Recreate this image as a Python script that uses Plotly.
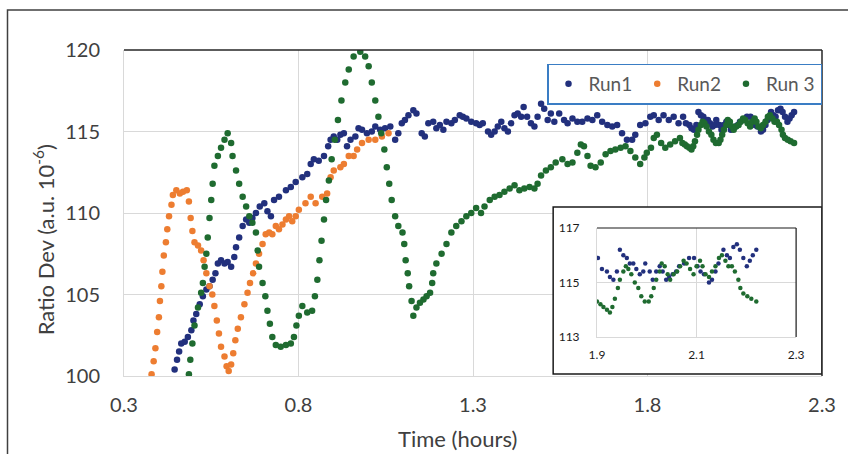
import plotly.graph_objects as go

# ---------------- data ----------------
run1_t = [0.445,0.452,0.458,0.464,0.474,0.483,0.493,0.499,0.507,0.517,0.526,0.536,0.545,0.554,0.562,0.569,
          0.578,0.588,0.597,0.607,0.616,0.621,0.630,0.640,0.650,0.659,0.668,0.678,0.689,0.702,0.711,0.721,
          0.730,0.744,0.764,0.778,0.792,0.811,0.825,0.835,0.844,0.858,0.873,0.885,0.892,0.901,0.911,0.920,
          0.930,0.939,0.949,0.963,0.972,0.982,0.996,1.010,1.020,1.034,1.048,1.063,1.077,1.086,1.096,1.105,
          1.115,1.129,1.138,1.153,1.162,1.172,1.186,1.195,1.205,1.215,1.224,1.238,1.248,1.262,1.271,1.281,
          1.295,1.309,1.319,1.328,1.343,1.352,1.362,1.371,1.381,1.390,1.400,1.409,1.419,1.428,1.438,1.445,
          1.455,1.466,1.476,1.485,1.495,1.504,1.514,1.523,1.533,1.547,1.561,1.571,1.585,1.599,1.613,1.628,
          1.642,1.656,1.670,1.685,1.699,1.713,1.727,1.741,1.756,1.765,1.779,1.794,1.808,1.818,1.832,1.846,
          1.861,1.875,1.889,1.902,1.910,1.920,1.926,1.933,1.940,1.946,1.953,1.960,1.966,1.973,1.979,1.986,
          1.993,1.997,2.006,2.012,2.019,2.026,2.032,2.039,2.045,2.052,2.059,2.065,2.075,2.085,2.095,2.102,
          2.108,2.115,2.125,2.131,2.138,2.144,2.154,2.161,2.167,2.174,2.181,2.187,2.194,2.201,2.207,2.213,2.220]
run1_v = [100.4,101.0,101.5,102.0,102.1,102.4,102.8,103.4,103.8,104.4,104.9,105.3,105.5,105.9,106.3,106.9,
          107.1,106.9,107.0,106.7,107.3,107.9,108.5,109.2,109.6,109.4,109.7,110.0,110.4,110.6,110.1,109.8,
          110.8,111.0,111.4,111.6,111.9,112.2,112.4,113.0,113.3,113.2,113.5,114.1,114.5,114.7,114.5,114.8,
          114.9,114.1,114.5,114.7,115.2,115.1,114.9,115.0,115.3,115.1,115.2,115.3,114.5,114.9,115.5,115.7,
          116.0,116.3,116.1,114.9,114.7,115.5,115.6,115.2,115.4,115.1,115.6,115.5,115.7,116.0,115.9,115.8,
          115.6,115.5,115.4,115.5,115.0,114.8,115.0,115.3,115.6,115.2,115.0,115.5,116.0,116.1,115.9,116.5,
          115.9,115.5,115.3,115.9,116.7,116.4,115.7,116.1,115.6,116.1,115.7,115.5,115.8,115.6,115.6,115.8,
          115.7,116.0,115.6,115.4,115.3,115.4,114.9,114.5,114.5,114.8,115.4,115.5,115.9,116.0,115.7,116.0,
          115.7,115.9,115.5,115.9,115.5,115.4,115.2,115.1,115.4,116.2,116.0,115.9,115.7,115.7,115.5,115.3,
          115.4,115.7,115.4,115.1,115.4,115.6,115.4,115.1,115.2,115.3,115.4,115.6,115.7,115.9,115.9,115.6,
          115.4,115.3,115.0,115.1,115.4,115.7,116.2,116.0,115.9,116.3,116.4,116.2,115.9,115.6,115.8,116.0,116.2]

run2_t = [0.379,0.385,0.390,0.395,0.400,0.403,0.407,0.410,0.414,0.420,0.424,0.429,0.436,0.440,0.450,0.460,
          0.469,0.480,0.486,0.491,0.496,0.502,0.512,0.521,0.528,0.536,0.545,0.553,0.559,0.566,0.572,0.578,
          0.588,0.594,0.600,0.607,0.613,0.619,0.626,0.635,0.645,0.654,0.661,0.670,0.678,0.687,0.697,0.706,
          0.716,0.725,0.735,0.744,0.754,0.764,0.773,0.782,0.792,0.801,0.820,0.835,0.849,0.868,0.882,0.892,
          0.901,0.920,0.930,0.944,0.958,0.968,0.982,1.001,1.020,1.039,1.058]
run2_v = [100.1,100.9,101.7,102.7,103.6,104.6,105.5,106.4,107.4,108.2,109.0,109.8,110.5,111.1,111.4,111.2,
          111.3,111.4,110.7,109.7,108.9,108.2,108.0,107.7,107.1,106.3,105.5,105.0,104.3,103.4,102.6,101.8,
          101.2,100.6,100.3,100.7,101.4,102.2,102.9,103.6,104.4,105.1,105.7,106.3,106.9,107.5,108.1,108.7,
          108.8,108.7,109.2,109.0,109.3,109.6,109.8,109.5,109.8,110.2,110.6,111.0,110.6,111.0,111.2,112.2,
          112.6,112.8,113.0,113.5,113.5,113.9,114.3,114.5,114.5,114.7,114.9]

run3_t = [0.486,0.490,0.496,0.502,0.512,0.521,0.526,0.531,0.536,0.540,0.545,0.550,0.554,0.559,0.569,0.578,
          0.588,0.597,0.607,0.611,0.621,0.630,0.640,0.650,0.659,0.668,0.678,0.683,0.687,0.697,0.705,0.711,
          0.718,0.725,0.735,0.749,0.764,0.778,0.787,0.794,0.801,0.811,0.825,0.839,0.847,0.854,0.860,0.866,
          0.873,0.879,0.887,0.895,0.904,0.913,0.923,0.934,0.944,0.958,0.977,0.991,1.001,1.010,1.020,1.029,
          1.037,1.046,1.053,1.060,1.067,1.077,1.086,1.098,1.103,1.107,1.113,1.117,1.124,1.129,1.138,1.148,
          1.158,1.167,1.177,1.183,1.186,1.195,1.210,1.224,1.238,1.252,1.267,1.281,1.295,1.309,1.323,1.333,
          1.348,1.362,1.376,1.390,1.405,1.419,1.433,1.447,1.462,1.476,1.485,1.495,1.509,1.523,1.537,1.556,
          1.571,1.585,1.599,1.609,1.618,1.628,1.637,1.651,1.666,1.680,1.694,1.708,1.723,1.737,1.751,1.765,
          1.779,1.791,1.798,1.810,1.818,1.827,1.839,1.851,1.865,1.879,1.893,1.900,1.907,1.913,1.920,1.926,
          1.931,1.936,1.942,1.946,1.953,1.958,1.963,1.969,1.976,1.983,1.989,1.996,2.004,2.009,2.014,2.019,
          2.026,2.030,2.036,2.042,2.047,2.054,2.061,2.067,2.074,2.080,2.087,2.094,2.100,2.107,2.112,2.118,
          2.125,2.131,2.138,2.145,2.151,2.158,2.164,2.171,2.177,2.184,2.188,2.194,2.202,2.210,2.220]
run3_v = [100.1,101.0,102.0,103.1,104.2,105.1,105.7,106.7,107.5,108.5,109.7,110.8,111.8,112.9,113.5,114.0,
          114.5,114.9,114.3,113.5,112.6,111.8,111.0,110.4,109.8,109.4,108.8,107.7,106.7,105.7,104.9,104.0,
          103.2,102.4,101.9,101.8,101.9,102.0,102.4,103.1,103.7,104.3,103.9,104.0,104.9,105.9,107.1,108.3,
          109.6,110.8,112.0,113.3,114.5,115.7,116.9,118.0,118.8,119.6,119.9,119.6,119.0,118.0,116.9,115.9,
          114.9,113.9,112.8,111.8,110.8,109.8,109.2,108.8,108.1,107.1,106.3,105.5,104.6,103.7,104.2,104.5,
          104.7,104.9,105.1,105.7,106.3,106.9,107.5,108.1,108.8,109.2,109.5,109.8,110.0,110.3,110.0,110.4,
          110.8,111.0,111.1,111.3,111.5,111.7,111.4,111.5,111.6,111.5,111.8,112.3,112.6,112.8,113.1,113.3,
          113.0,113.1,113.7,114.2,114.1,113.5,112.9,112.8,113.1,113.6,113.8,113.9,114.0,114.1,113.8,113.4,
          113.0,113.4,113.7,114.0,114.6,114.8,114.3,114.0,114.2,114.4,114.6,114.3,114.2,114.1,114.0,113.9,
          114.1,114.4,114.8,115.1,115.4,115.6,115.5,115.3,115.0,114.8,114.5,114.3,114.3,114.5,114.8,115.1,
          115.4,115.7,115.6,115.3,115.1,115.3,115.4,115.6,115.8,115.7,115.5,115.3,115.6,115.8,115.6,115.3,
          115.2,115.4,115.6,115.9,116.0,115.8,115.6,115.6,115.4,115.1,114.8,114.6,114.5,114.4,114.3]

series_names = ["Run1", "Run2", "Run 3"]
series_colors = ["#22307d", "#ed7d31", "#1f6b30"]

main_x_ticks = [0.3, 0.8, 1.3, 1.8, 2.3]
main_y_ticks = [100, 105, 110, 115, 120]
inset_x_ticks = [1.9, 2.1, 2.3]
inset_y_ticks = [113, 115, 117]

x_title = "Time (hours)"
y_title = "Ratio Dev (a.u. 10<sup>-6</sup>)"

# ---------------- figure ----------------
FONT = "Lato, 'Liberation Sans', sans-serif"
fig = go.Figure()
data = [(run1_t, run1_v), (run2_t, run2_v), (run3_t, run3_v)]
for (t, v), name, col in zip(data, series_names, series_colors):
    fig.add_trace(go.Scatter(x=t, y=v, mode="markers", name=name,
                             marker=dict(size=6.5, color=col), xaxis="x", yaxis="y"))
for (t, v), name, col in zip(data, series_names, series_colors):
    if name == "Run2":
        continue
    fig.add_trace(go.Scatter(x=t, y=v, mode="markers", name=name, showlegend=False,
                             marker=dict(size=4.5, color=col), xaxis="x2", yaxis="y2"))

W, H = 848, 454
L, R, T, B = 124, 825, 50, 376
XMIN, XMAX, YMIN, YMAX = 0.3, 2.3, 100, 120
def px(x):
    return (x - L) / (R - L)
def py(y):
    return (B - y) / (B - T)
def dx(p):   # pixel -> main x data value (for decoration placement)
    return XMIN + (p - L) / (R - L) * (XMAX - XMIN)
def dy(p):
    return YMIN + (B - p) / (B - T) * (YMAX - YMIN)

grid = "#d9d9d9"
fig.update_layout(
    width=W, height=H,
    margin=dict(l=L, r=W - R, t=T, b=H - B),
    paper_bgcolor="white", plot_bgcolor="white",
    font=dict(family=FONT, color="#404040"),
    xaxis=dict(domain=[0, 1], range=[XMIN, XMAX], tickvals=main_x_ticks,
               ticktext=[f"{v:.1f}" for v in main_x_ticks],
               showgrid=True, gridcolor=grid, gridwidth=1,
               showline=True, linecolor=grid, linewidth=1, ticks="",
               zeroline=False, tickfont=dict(size=20, color="#404040"),
               ticklabelstandoff=11),
    yaxis=dict(domain=[0, 1], range=[YMIN, YMAX], tickvals=main_y_ticks,
               showgrid=True, gridcolor=grid, gridwidth=1,
               showline=True, linecolor=grid, linewidth=1, ticks="",
               zeroline=False, tickfont=dict(size=20, color="#404040"),
               ticklabelstandoff=19),
    xaxis2=dict(domain=[px(599), px(799)], anchor="y2", range=[1.9, 2.3], tickvals=inset_x_ticks,
                showgrid=True, gridcolor=grid, showline=True, linecolor=grid, ticks="",
                zeroline=False, tickfont=dict(size=12, color="#1a1a1a"), ticklabelstandoff=7),
    yaxis2=dict(domain=[py(337), py(228)], anchor="x2", range=[113, 117], tickvals=inset_y_ticks,
                showgrid=True, gridcolor=grid, showline=True, linecolor=grid, ticks="",
                zeroline=False, tickfont=dict(size=12, color="#1a1a1a"), ticklabelstandoff=14),
    legend=dict(orientation="h", x=1, xanchor="right", y=py(84), yanchor="middle",
                bgcolor="white", bordercolor="#3a7dc4", borderwidth=1.5,
                font=dict(size=19, color="#595959"), itemwidth=30, tracegroupgap=0),
    showlegend=True,
    annotations=[
        dict(text=x_title, xref="paper", yref="paper", x=px(459), y=py(438),
             xanchor="center", yanchor="middle", showarrow=False,
             font=dict(size=22, color="#404040")),
        dict(text=y_title, xref="paper", yref="paper", x=px(43), y=py(240),
             xanchor="center", yanchor="middle", showarrow=False, textangle=-90,
             font=dict(size=22, color="#404040")),
    ],
)

shapes = [
    # white inset panel (above main gridlines, below traces)
    dict(type="rect", xref="x", yref="y", x0=dx(555), x1=dx(825), y0=dy(374), y1=dy(207),
         fillcolor="white", line=dict(color="#1a1a1a", width=1.5), layer="between"),
    # main plot top / right dark border
    dict(type="line", xref="paper", yref="paper", x0=0, x1=1, y0=1, y1=1,
         line=dict(color="#262626", width=1.5)),
    dict(type="line", xref="paper", yref="paper", x0=1, x1=1, y0=0, y1=1,
         line=dict(color="#262626", width=1.5)),
    # inset plot top / right dark border
    dict(type="line", xref="paper", yref="paper", x0=px(599), x1=px(799), y0=py(228), y1=py(228),
         line=dict(color="#1a1a1a", width=1.2)),
    dict(type="line", xref="paper", yref="paper", x0=px(799), x1=px(799), y0=py(337), y1=py(228),
         line=dict(color="#1a1a1a", width=1.2)),
    # outer chart frame
    dict(type="rect", xref="paper", yref="paper", x0=px(7), x1=px(852), y0=py(458), y1=py(10),
         line=dict(color="#404040", width=1.5), fillcolor="rgba(0,0,0,0)"),
]
fig.update_layout(shapes=shapes)

fig.write_html("out.html")
